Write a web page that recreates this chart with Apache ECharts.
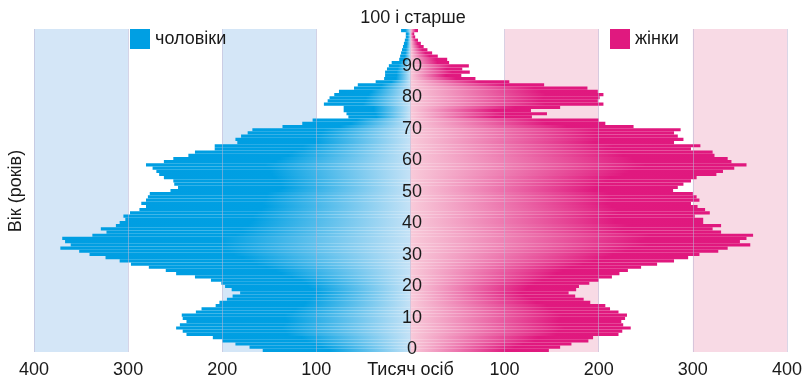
<!DOCTYPE html>
<html>
<head>
<meta charset="utf-8">
<script src="https://cdn.jsdelivr.net/npm/echarts@6/dist/echarts.min.js"></script>
<style>
  html, body { margin: 0; padding: 0; background: #fff; }
  #chart { width: 805px; height: 381px; }
</style>
</head>
<body>
<div id="chart"></div>
<script>
// вік 0..100 (100 = 100 і старше)
var ages = [];
for (var i = 0; i <= 100; i++) ages.push(String(i));

// тисяч осіб, по віку 0..100
var men = [
  157, 171, 186, 200, 210, 238, 242, 249, 245, 238,
  242, 243, 228, 222, 207, 203, 195, 189, 181, 190,
  197, 201, 212, 229, 249, 260, 278, 297, 309, 324,
  341, 352, 372, 361, 367, 370, 338, 323, 329, 313,
  309, 303, 305, 298, 288, 281, 286, 281, 279, 277,
  255, 247, 251, 252, 262, 267, 270, 274, 281, 262,
  252, 236, 229, 208, 208, 184, 186, 180, 173, 168,
  136, 115, 104, 66, 68, 71, 71, 92, 88, 86,
  81, 76, 60, 56, 37, 28, 27, 27, 25, 23,
  20, 12, 11, 10, 9, 8, 7, 6, 5, 5,
  10
];
var women = [
  147, 159, 171, 189, 194, 221, 225, 234, 226, 224,
  228, 230, 221, 212, 207, 191, 184, 175, 168, 176,
  179, 190, 200, 214, 222, 231, 245, 262, 280, 295,
  307, 327, 337, 361, 350, 357, 364, 330, 321, 330,
  311, 311, 302, 318, 313, 305, 298, 307, 304, 300,
  279, 284, 290, 298, 304, 325, 332, 344, 357, 341,
  337, 323, 321, 298, 308, 280, 290, 284, 280, 287,
  237, 207, 200, 129, 145, 128, 159, 205, 199, 201,
  205, 199, 188, 142, 105, 69, 54, 63, 55, 62,
  41, 39, 29, 23, 18, 14, 11, 8, 5, 4,
  8
];
var ageTicks = [0, 10, 20, 30, 40, 50, 60, 70, 80, 90];

var FONT = "'Liberation Sans', Arial, sans-serif";
var chart = echarts.init(document.getElementById('chart'));

var option = {
  animation: false,
  textStyle: { fontFamily: FONT },
  grid: { left: 34, right: 15, top: 29, bottom: 29 },
  legend: [{
    left: 130, top: 29, padding: 0,
    itemWidth: 20, itemHeight: 20, icon: 'rect',
    selectedMode: false,
    textStyle: { fontSize: 18, color: '#1a1a1a', fontFamily: FONT },
    data: [{ name: 'чоловіки', itemStyle: { color: '#009fe3' } }]
  }, {
    left: 610, top: 29, padding: 0,
    itemWidth: 20, itemHeight: 20, icon: 'rect',
    selectedMode: false,
    textStyle: { fontSize: 18, color: '#1a1a1a', fontFamily: FONT },
    data: [{ name: 'жінки', itemStyle: { color: '#e0197f' } }]
  }],
  graphic: [{
    type: 'text', x: 413, y: 18,
    style: { text: '100 і старше', fill: '#1a1a1a', font: '18px ' + FONT, textAlign: 'center', textVerticalAlign: 'middle' }
  }, {
    type: 'text', x: 16, y: 191, rotation: Math.PI / 2,
    style: { text: 'Вік (років)', fill: '#1a1a1a', font: '18px ' + FONT, textAlign: 'center', textVerticalAlign: 'middle' }
  }],
  xAxis: {
    type: 'value', min: -400, max: 400, interval: 100, z: 3,
    axisLine: { show: false },
    axisTick: { show: false },
    splitLine: { show: true, lineStyle: { color: 'rgba(185,180,212,0.55)', width: 1 } },
    axisLabel: {
      fontSize: 18, color: '#1a1a1a', margin: 9,
      formatter: function (v) { return v === 0 ? 'Тисяч осіб' : String(Math.abs(v)); }
    }
  },
  yAxis: [{
    type: 'category', data: ages,
    axisLine: { show: false }, axisTick: { show: false }, axisLabel: { show: false },
    splitLine: { show: false }
  }, {
    // підписи віку по центру (x = 0)
    type: 'value', min: -0.95, max: 101.77, position: 'left', offset: -378, z: 6,
    axisLine: { show: false, onZero: false }, axisTick: { show: false },
    splitLine: { show: false },
    axisLabel: {
      customValues: ageTicks, align: 'center', margin: 0,
      fontSize: 18, color: '#1a1a1a'
    }
  }],
  series: [{
    type: 'line', data: [], z: 1, silent: true,
    markArea: {
      silent: true,
      data: [
        [{ xAxis: -400, itemStyle: { color: '#d4e6f7' } }, { xAxis: -300 }],
        [{ xAxis: -200, itemStyle: { color: '#d4e6f7' } }, { xAxis: -100 }],
        [{ xAxis: 100, itemStyle: { color: '#f8dae5' } }, { xAxis: 200 }],
        [{ xAxis: 300, itemStyle: { color: '#f8dae5' } }, { xAxis: 400 }]
      ]
    }
  }, {
    name: 'чоловіки', type: 'bar', z: 2,
    barGap: '-100%', barCategoryGap: '0%',
    data: men.map(function (v) { return -v; }),
    itemStyle: {
      color: new echarts.graphic.LinearGradient(0, 0, 1, 0, [
        { offset: 0, color: '#009ee2' },
        { offset: 0.45, color: '#00a0e3' },
        { offset: 1, color: '#c4e2f6' }
      ])
    }
  }, {
    name: 'жінки', type: 'bar', z: 2,
    barGap: '-100%', barCategoryGap: '0%',
    data: women,
    itemStyle: {
      color: new echarts.graphic.LinearGradient(0, 0, 1, 0, [
        { offset: 0, color: '#f8cad9' },
        { offset: 0.7, color: '#e0197f' },
        { offset: 1, color: '#e0187e' }
      ])
    }
  }]
};

chart.setOption(option);
</script>
</body>
</html>
